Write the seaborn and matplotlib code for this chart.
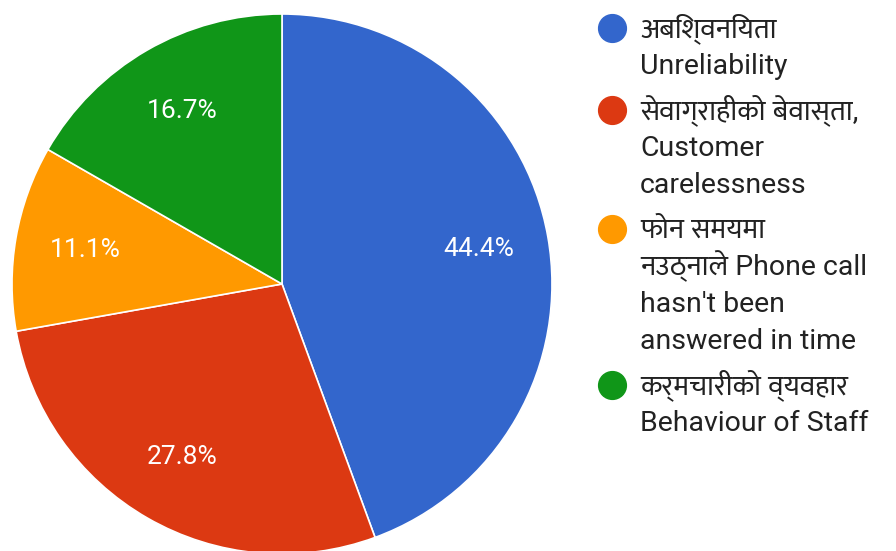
import matplotlib
matplotlib.use("Agg")
import matplotlib.pyplot as plt
from matplotlib.lines import Line2D
import seaborn as sns

# reasons for complaints, share of responses
labels = ["अबिश्वनियता\nUnreliability",
	"सेवाग्राहीको बेवास्ता,\nCustomer\ncarelessness",
	"फोन समयमा\nनउठ्नाले Phone call\nhasn't been\nanswered in time",
	"कर्मचारीको व्यवहार\nBehaviour of Staff"]
shares = [44.4, 27.8, 11.1, 16.7]
colors = ["#3366cc", "#dc3912", "#ff9900", "#109618"]

sns.set_style("white")
plt.rcParams["font.family"] = ["Roboto", "Mukta", "DejaVu Sans"]

W, H = 896, 551
fig = plt.figure(figsize = (W / 100, H / 100), dpi = 100)
ax = fig.add_axes([12 / W, -3 / H, 540 / W, 540 / H])

wedges, texts, autotexts = ax.pie(shares, colors = colors, startangle = 90,
	counterclock = False, autopct = "%.1f%%", pctdistance = 0.74,
	wedgeprops = dict(edgecolor = "white", linewidth = 1.2),
	textprops = dict(color = "white", fontsize = 19))
for w in wedges:
	w.set_clip_on(False)
ax.set_xlim(-1, 1)
ax.set_ylim(-1, 1)
ax.set_aspect("equal")
ax.axis("off")

# legend drawn by hand so the dot sits on the first line of each entry
pitch, gap = 37, 8
y = 28
for lab, c in zip(labels, colors):
	fig.add_artist(Line2D([612 / W], [1 - y / H], transform = fig.transFigure,
		linestyle = "none", marker = "o", markersize = 20,
		markerfacecolor = c, markeredgecolor = c))
	lines = lab.split("\n")
	for i, line in enumerate(lines):
		fig.text(640 / W, 1 - (y + i * pitch + 9) / H, line,
			fontsize = 20.5, color = "#222222", va = "baseline", ha = "left")
	y += len(lines) * pitch + gap

fig.savefig("out.png", dpi = 100)
